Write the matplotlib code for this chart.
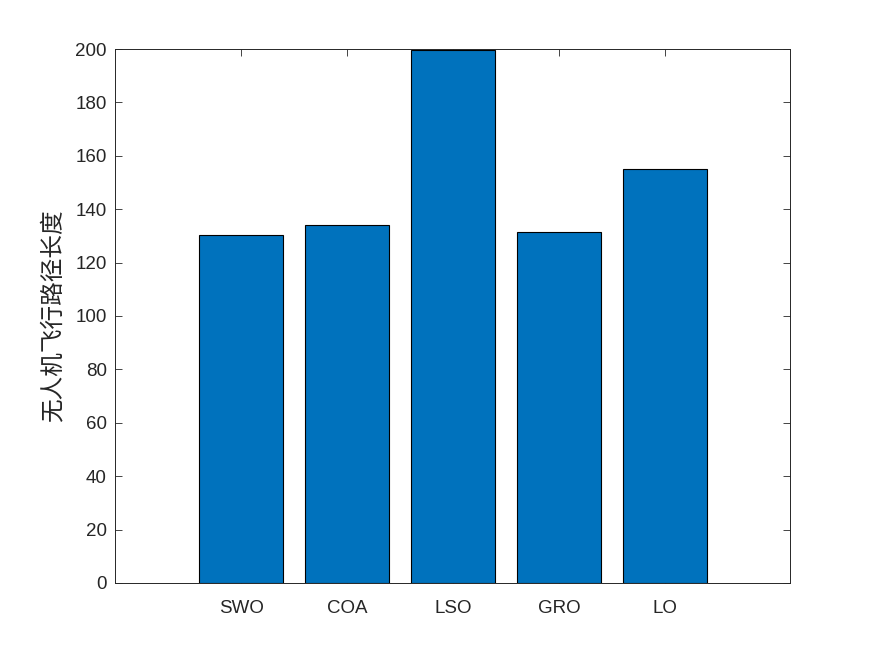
import matplotlib
matplotlib.use("Agg")
import matplotlib.pyplot as plt

categories = ["SWO", "COA", "LSO", "GRO", "LO"]
values = [130.3, 134.1, 199.8, 131.5, 154.9]
yticks = [0, 20, 40, 60, 80, 100, 120, 140, 160, 180, 200]

plt.rcParams['font.family'] = ['Liberation Sans', 'Noto Sans CJK SC', 'DejaVu Sans']

fig = plt.figure(figsize=(8.75, 6.56), dpi=100)
ax = fig.add_axes([0.1314, 0.1113, 0.7715, 0.814])
x = list(range(1, len(categories) + 1))
ax.bar(x, values, width=0.8, color='#0072BD', edgecolor='black', linewidth=0.8, zorder=2)
ax.set_xlim(-0.19, 6.18)
ax.set_ylim(0, 200)
ax.set_xticks(x)
ax.set_xticklabels(categories)
ax.set_yticks(yticks)
ax.tick_params(direction='in', length=5, width=0.6, colors='#262626', labelsize=13.5, pad=6)
ax.tick_params(axis='x', pad=12)
ax.tick_params(top=True, right=True, labeltop=False, labelright=False)
for s in ax.spines.values():
    s.set_color('#262626')
    s.set_linewidth(0.7)
ax.set_ylabel('无人机飞行路径长度', fontsize=17, color='#262626',
              family=['Noto Sans CJK SC', 'DejaVu Sans'], labelpad=8)
fig.savefig('out.png', dpi=100)
